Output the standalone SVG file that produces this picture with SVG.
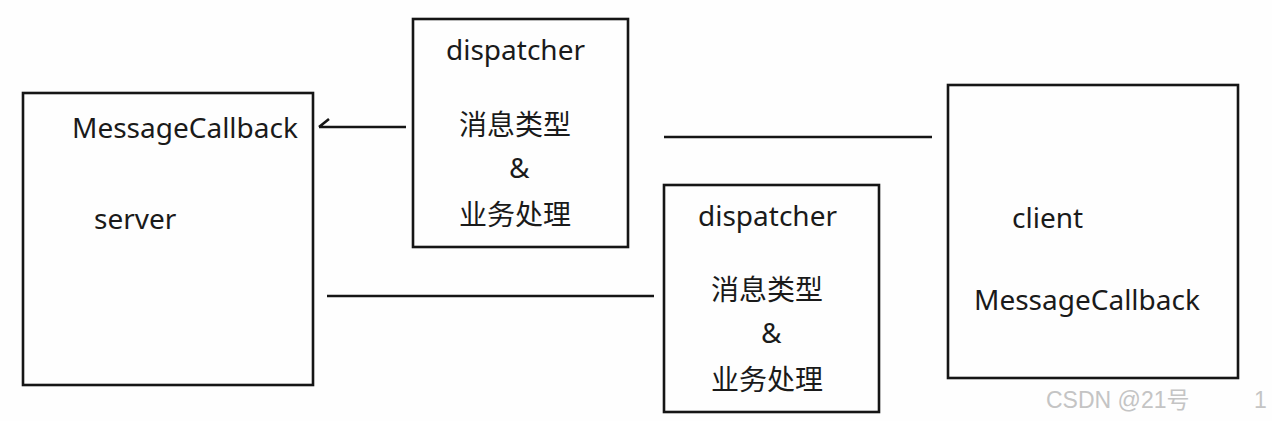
<svg xmlns="http://www.w3.org/2000/svg" width="1272" height="421" viewBox="0 0 1272 421">
<style>
.box{fill:none;stroke:#151515;stroke-width:2.6}
.ln{fill:none;stroke:#151515;stroke-width:2.6}
.t{font-family:"Noto Sans","Noto Sans CJK SC",sans-serif;font-size:28px;fill:#1a1a1a}
.c{font-family:"Noto Sans CJK SC","Noto Sans",sans-serif;font-size:28px;fill:#1a1a1a}
.w{font-family:"Liberation Sans","Noto Sans CJK SC",sans-serif;font-size:23px;fill:#c4c4c4}
</style>
<rect width="1272" height="421" fill="#fefefe"/>
<g id="server">
<rect class="box" x="23" y="93" width="290" height="292"/>
<text class="t" x="72" y="138">MessageCallback</text>
<text class="t" x="94" y="229">server</text>
</g>
<g id="dispatcher1">
<rect class="box" x="413" y="19" width="215" height="228"/>
<text class="t" x="446" y="60">dispatcher</text>
<text class="c" x="459" y="135">消息类型</text>
<text class="t" x="509" y="178">&amp;</text>
<text class="c" x="459" y="225">业务处理</text>
</g>
<g id="dispatcher2">
<rect class="box" x="664" y="185" width="215" height="227"/>
<text class="t" x="698" y="226">dispatcher</text>
<text class="c" x="711" y="300">消息类型</text>
<text class="t" x="761" y="343">&amp;</text>
<text class="c" x="711" y="390">业务处理</text>
</g>
<g id="client">
<rect class="box" x="948" y="85" width="290" height="293"/>
<text class="t" x="1012" y="228">client</text>
<text class="t" x="974" y="310">MessageCallback</text>
</g>
<g id="connectors">
<path class="ln" d="M406 127 H319 M319 127 L329 119"/>
<path class="ln" d="M664 137 H932"/>
<path class="ln" d="M327 296 H654"/>
</g>
<g id="watermark">
<text class="w" x="1046" y="408">CSDN @21号</text>
<text class="w" x="1254" y="408">1</text>
</g>
</svg>
